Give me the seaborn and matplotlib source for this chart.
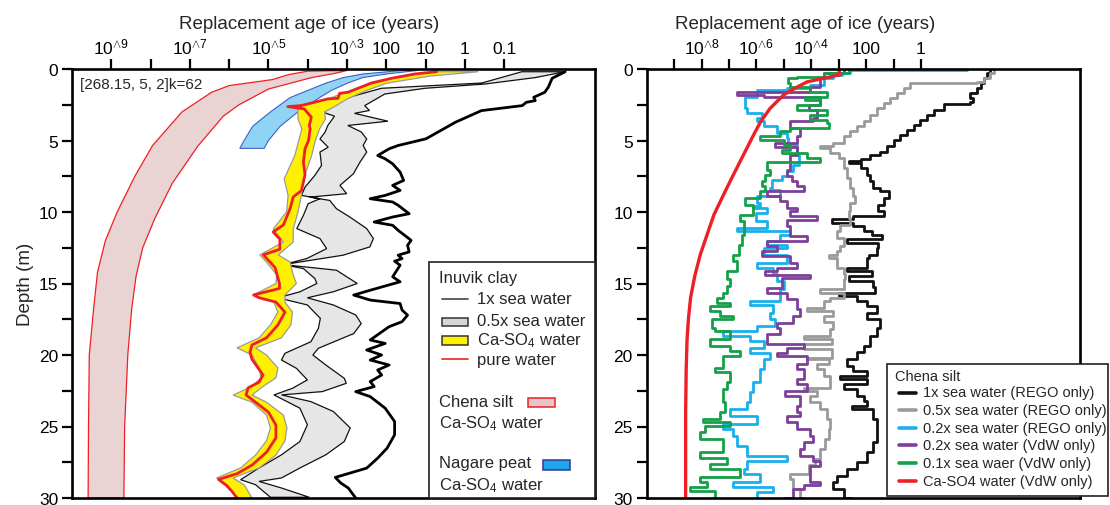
import numpy as np
import matplotlib
matplotlib.use("Agg")
import matplotlib.pyplot as plt
import seaborn as sns
from matplotlib.patches import Rectangle
from matplotlib.lines import Line2D
from matplotlib.ticker import FixedLocator, FixedFormatter, NullLocator

# ======================= DATA (depth in m, log10 of replacement age in years) ==========
# ---- left panel: Inuvik clay ----
clay_sea1_depth = [0.19,0.65,1.28,1.63,1.98,2.21,2.33,2.56,2.91,3.72,4.88,5.35,5.58,6.05,6.28,6.63,7.21,7.79,
                   8.14,8.49,8.84,9.07,9.30,9.53,10.12,10.35,10.70,10.93,11.28,11.98,12.33,12.79,13.02,13.26,
                   13.44,13.72,14.53,14.88,15.47,15.81,16.16,16.40,16.86,17.21,17.67,18.02,18.95,19.19,19.65,
                   20.00,20.35,20.70,21.05,21.40,21.86,22.21,22.56,22.91,23.72,24.65,25.58,26.51,27.21,27.91,
                   28.56,28.95,29.30,30.0]
clay_sea1_logage = [-2.55,-2.22,-2.12,-2.03,-1.75,-1.79,-1.56,-1.46,-0.42,0.24,0.99,1.70,1.93,2.22,2.03,1.84,1.65,
                    1.56,1.84,1.65,2.03,2.41,1.84,1.70,1.42,1.84,2.31,1.84,1.70,1.37,1.46,1.42,1.70,1.60,1.79,1.65,
                    1.84,1.65,2.41,2.83,2.41,1.65,1.60,1.46,1.60,1.93,2.41,2.03,2.50,2.12,2.41,1.93,2.22,2.12,2.41,
                    2.31,2.78,2.41,2.03,1.79,1.79,1.98,2.22,2.50,3.30,3.16,2.97,2.78]

clay_half_left_depth = [0.19,0.98,1.35,2.0,2.56,2.9,3.3,3.95,4.42,4.89,5.47,5.81,6.74,7.44,8.26,8.84,9.07,9.42,
                        10.23,11.16,11.86,12.56,13.26,13.68,13.96,14.65,15.0,15.58,16.0,16.5,17.44,18.14,19.07,
                        19.88,20.35,20.93,21.74,22.33,22.79,23.72,24.88,26.05,26.98,27.9,28.72,29.07,29.95]
clay_half_left_logage = [-1.45,-0.43,2.13,2.98,3.57,3.74,3.32,3.49,3.56,3.69,3.48,3.69,3.65,3.82,4.07,4.16,3.69,
                         3.99,4.11,4.28,3.69,3.52,4.03,4.62,4.11,3.82,3.77,4.20,4.76,4.01,3.68,3.73,3.92,4.58,
                         4.67,4.29,4.01,4.39,4.86,4.20,4.01,4.20,4.67,5.24,5.71,5.33,4.95]
clay_half_right_depth = [0.19,0.6,1.05,1.35,1.75,2.56,2.9,3.1,3.65,3.95,4.4,4.89,5.35,5.81,6.51,7.33,8.14,8.72,
                         8.96,9.19,9.77,10.35,11.16,11.86,12.44,13.02,13.68,14.07,15.0,15.58,16.0,16.5,17.2,17.8,
                         18.5,19.53,20.0,20.7,21.63,21.98,22.56,22.79,23.26,23.95,25.1,26.05,26.98,27.9,28.6,
                         28.84,29.3,29.95]
clay_half_right_logage = [-2.55,-1.79,-0.51,1.02,2.04,2.55,2.43,2.81,1.96,2.98,2.64,2.50,2.59,2.50,2.67,2.84,
                          3.18,3.01,3.95,3.44,3.27,2.93,2.50,2.33,2.42,3.10,4.62,3.27,2.74,3.35,4.01,3.35,2.78,
                          2.64,2.83,3.73,3.87,3.54,3.07,3.02,3.63,4.67,3.92,3.35,2.92,3.07,3.54,4.20,4.67,5.24,
                          4.67,3.96]

clay_caso4_depth = [0.19,0.5,1.0,1.6,2.1,2.6,3.0,3.5,4.19,5.12,6.05,7.68,8.84,10.0,11.2,12.1,13.0,13.5,14.4,15.0,
                    15.8,16.3,17.0,17.9,18.8,19.5,20.0,20.9,21.6,22.2,22.8,23.3,24.2,25.1,26.0,27.0,27.9,28.6,
                    29.1,30.0]
clay_caso4_left_logage = [0.72,1.6,2.4,3.0,3.5,4.25,4.25,4.25,4.15,4.24,4.33,4.6,4.50,4.54,4.88,4.62,5.22,5.05,
                          4.79,4.81,5.38,4.86,4.76,4.95,5.24,5.80,5.42,5.24,5.19,5.42,5.90,5.42,5.05,4.95,5.05,
                          5.33,5.71,6.32,6.04,5.80]
clay_caso4_right_logage = [-0.34,0.9,2.0,2.6,3.0,3.3,3.57,3.55,3.7,3.82,3.9,4.11,4.16,4.25,4.37,4.37,4.75,4.45,
                           4.37,4.29,4.58,4.58,4.39,4.43,4.67,5.33,5.05,4.76,4.81,5.14,5.42,5.05,4.62,4.53,4.58,
                           4.81,5.24,5.90,5.61,5.42]

clay_pure_depth = [0.19,0.35,0.65,0.98,1.63,1.70,2.05,2.09,2.56,2.63,2.79,3.37,3.95,4.19,5.0,5.58,6.5,7.4,8.5,
                   8.95,9.77,10.9,11.4,11.9,12.6,13.0,13.5,13.9,15.0,15.35,15.8,16.0,16.3,17.0,17.9,18.8,19.3,
                   19.8,20.3,21.0,21.4,21.9,22.3,22.8,23.3,24.0,24.9,25.8,26.8,27.7,28.3,28.7,29.1,29.5,30.0]
clay_pure_logage = [0.72,1.28,1.87,2.38,2.98,3.19,3.23,3.49,4.17,4.51,4.09,3.91,3.96,3.94,3.98,4.07,4.11,4.07,
                    4.16,4.37,4.45,4.62,4.88,4.71,4.71,5.13,4.96,4.83,4.72,4.72,5.38,5.24,4.81,4.58,4.76,5.05,
                    5.42,5.47,5.42,5.24,5.14,5.24,5.52,5.57,5.33,5.0,4.81,4.81,5.05,5.42,5.80,6.27,6.08,5.94,5.80]

# ---- left panel: Chena silt and Nagare peat, Ca-SO4 water ----
silt_outer_depth = [0.15,0.4,0.74,1.16,1.63,3.0,5.35,7.5,10.0,12.0,14.2,16.75,20.0,25.0,30.0]
silt_outer_logage = [4.0,4.5,4.9,6.0,6.45,7.2,7.95,8.4,8.85,9.15,9.35,9.45,9.56,9.58,9.59]
silt_inner_depth = [0.1,0.3,0.6,1.4,2.5,3.3,5.4,8.0,10.5,12.5,14.5,16.75,20.0,25.0,30.0]
silt_inner_logage = [3.0,3.3,3.9,5.0,5.75,6.15,6.8,7.45,7.9,8.2,8.37,8.48,8.58,8.66,8.68]

peat_depth = [0.1,0.35,0.6,1.0,1.5,2.0,3.0,4.0,5.0,5.55]
peat_old_logage = [1.6,2.6,3.1,3.55,4.0,4.45,4.95,5.4,5.62,5.73]
peat_young_logage = [1.2,2.0,2.6,3.0,3.4,3.7,4.25,4.7,5.0,5.11]

# ---- right panel: Chena silt ----
rego1_depth = [0.07,0.3,0.65,1.0,1.35,1.7,2.0,2.3,2.47,2.86,3.2,3.56,3.9,4.26,4.6,4.95,5.35,5.77,6.0,6.3,6.42,
               6.6,6.93,7.4,7.86,8.33,8.56,9.0,9.5,9.95,10.3,10.5,10.8,11.0,11.35,11.6,11.9,12.15,12.5,12.98,
               13.25,13.9,14.15,14.5,14.85,15.25,15.65,15.9,16.2,16.6,17.05,17.5,18.1,18.7,19.4,19.8,20.3,
               20.77,21.1,21.47,21.7,22.05,22.4,22.86,23.2,23.56,23.8,24.5,25.4,26.1,26.8,27.5,28.0,28.44,28.9,
               29.4,30.0]
rego1_logage = [-2.53,-2.4,-2.3,-2.2,-2.04,-1.8,-1.9,-1.8,-0.83,-0.46,-0.22,0.02,0.27,0.51,0.75,1.0,1.25,1.48,
                1.85,2.2,2.64,2.2,1.97,1.85,1.73,1.48,1.18,1.36,1.55,1.36,2.46,3.25,2.46,2.09,1.79,1.42,2.7,1.55,
                1.6,1.9,1.97,2.70,1.79,2.64,1.73,1.67,3.0,2.34,1.97,1.6,1.97,1.48,1.6,1.85,2.09,2.34,2.70,2.46,
                1.97,2.94,1.97,2.82,2.34,2.09,1.97,2.52,1.73,1.6,1.6,1.73,1.97,2.34,2.70,3.07,3.19,2.82,2.58]

rego05_depth = [0.07,0.3,0.65,0.9,1.0,1.35,1.7,2.05,2.4,2.74,3.2,3.67,4.0,4.37,4.72,5.2,5.35,5.53,5.9,6.23,
                6.93,7.63,8.33,8.9,9.4,9.95,10.4,10.9,11.35,11.8,12.4,12.74,13.0,13.2,13.44,13.9,14.37,14.7,
                15.4,15.65,16.0,16.2,16.7,16.93,17.3,17.7,18.2,18.67,18.9,19.26,19.6,20.2,20.3,20.65,21.0,
                21.47,22.3,22.5,22.86,23.3,23.8,24.5,25.2,25.9,26.6,27.3,27.7,28.3,28.7,29.4,30.0]
rego05_logage = [-2.65,-2.5,-2.3,-2.04,0.39,0.63,0.88,1.12,1.36,1.6,1.85,2.09,2.34,2.58,2.82,3.19,3.67,3.31,
                 3.0,2.82,2.70,2.58,2.46,2.4,2.58,2.64,2.58,2.94,3.07,2.82,2.94,3.07,3.37,3.07,3.07,2.82,2.76,
                 2.82,3.67,2.82,3.31,3.55,4.16,3.19,3.55,3.19,3.31,4.28,3.25,4.28,3.25,4.16,3.37,3.79,3.55,
                 3.31,4.28,3.79,4.04,3.67,3.43,3.31,3.37,3.49,3.67,3.86,4.10,4.77,4.65,4.4,4.28]

rego02_depth = [0.0,0.1,0.3,0.4,0.65,1.1,1.35,1.47,1.93,2.74,3.1,3.44,3.67,4.0,4.5,4.84,5.3,6.0,6.7,7.16,7.5,
                7.74,8.33,8.44,8.9,9.37,9.6,9.7,10.1,10.6,11.1,11.35,11.58,12.05,12.3,12.5,13.0,13.56,13.9,
                14.37,14.84,15.0,15.4,16.2,16.5,17.05,17.5,18.0,18.3,18.67,19.0,19.5,19.84,20.3,21.0,21.9,
                22.6,23.3,23.8,24.26,24.84,25.2,25.65,26.35,27.05,27.4,27.98,28.33,28.9,29.26,29.6,30.0]
rego02_logage = [-1.68,2.58,2.88,3.2,3.55,4.04,4.89,5.99,6.41,6.35,5.80,5.99,5.74,5.26,4.89,4.83,4.53,4.46,
                 4.65,4.89,5.07,5.44,5.50,5.13,5.99,5.86,6.11,5.62,6.0,5.6,6.72,4.77,5.13,5.62,4.89,5.74,4.89,
                 5.99,5.38,5.26,5.01,5.0,5.13,6.23,5.38,5.50,5.32,5.99,7.20,6.23,5.74,6.23,5.50,5.74,5.86,
                 6.11,6.23,6.35,6.96,5.99,7.20,6.84,6.72,6.35,4.89,6.35,6.47,5.86,6.84,5.38,5.99,5.99]

vdw02_depth = [0.07,0.3,0.65,1.23,1.58,1.8,1.93,2.5,2.86,3.44,3.67,4.14,4.72,5.2,5.42,6.0,7.05,7.5,7.86,8.2,
               8.56,8.9,9.26,9.72,9.95,10.3,10.53,11.0,11.7,12.05,12.4,12.74,13.1,13.56,13.9,14.1,14.4,14.6,
               15.3,15.65,16.1,16.8,17.3,17.74,18.1,18.56,19.26,19.5,19.84,20.07,20.65,21.0,21.7,22.05,22.5,
               22.86,23.56,24.0,24.26,24.72,25.2,25.65,26.1,26.6,27.05,27.4,27.74,28.9,29.1,29.4,30.0]
vdw02_logage = [2.82,3.55,3.67,4.04,6.72,5.74,3.67,4.10,3.79,3.92,4.77,4.40,4.53,5.32,4.53,4.77,4.89,4.71,
                4.53,4.28,5.62,5.13,4.89,4.53,4.77,3.79,4.89,4.77,4.16,5.62,5.26,5.80,4.77,4.53,5.26,5.68,
                4.04,5.07,5.62,4.89,4.53,4.40,4.65,5.26,5.13,5.62,4.28,4.9,5.26,4.16,4.53,4.28,4.53,4.16,4.95,
                4.40,4.53,4.40,4.89,4.53,4.04,3.92,4.28,4.40,3.92,3.67,4.04,3.67,4.28,4.65,5.01]

vdw01_depth = [0.0,0.3,0.53,0.65,1.0,1.23,1.58,1.93,2.16,2.5,2.86,3.2,3.56,3.8,4.14,4.37,4.72,4.95,5.3,5.65,
               5.88,6.23,6.47,7.05,7.4,7.86,8.2,8.56,9.0,9.5,10.2,10.65,11.6,12.3,13.0,13.44,14.1,14.7,15.2,
               15.65,16.0,16.35,16.6,16.93,17.3,17.5,18.1,18.3,18.9,19.4,19.7,20.07,20.9,21.2,21.9,22.4,23.3,
               24.0,24.5,24.7,24.95,25.4,25.9,26.8,27.2,27.6,27.98,28.56,28.9,29.26,29.5,30.0]
vdw01_logage = [2.64,3.55,4.53,4.83,4.77,4.04,3.43,4.22,3.67,4.53,3.43,4.04,3.43,3.37,4.77,5.13,5.86,5.01,
                4.77,5.07,4.16,3.67,5.62,5.50,5.68,5.80,5.68,5.86,6.41,6.11,6.59,6.47,6.53,6.65,6.84,6.72,
                7.08,6.96,7.08,7.20,7.44,6.96,7.69,7.32,6.84,7.63,7.51,6.96,7.69,6.96,6.59,7.20,7.51,6.96,
                7.08,7.20,7.14,7.32,7.93,6.96,7.87,8.05,7.20,8.05,7.08,7.69,6.59,8.05,7.81,8.42,7.51,7.44]

vdw_caso4_depth = [0.0,0.4,0.65,0.9,1.25,1.8,2.75,3.7,4.6,6.0,7.4,8.8,10.2,11.6,13.0,14.5,16.0,17.5,19.0,21.0,
                   24.0,27.0,30.0]
vdw_caso4_logage = [3.0,2.95,3.55,4.15,4.5,5.0,5.5,5.85,6.1,6.47,6.84,7.2,7.55,7.8,8.05,8.25,8.4,8.48,8.53,
                    8.56,8.58,8.58,8.58]

# ---- tick labels ----
left_tick_exp = [9, 8, 7, 6, 5, 4, 3, 2, 1, 0, -1]
left_tick_text = ["10^9", "", "10^7", "", "10^5", "", "10^3", "100", "10", "1", "0.1"]
right_tick_exp = [9, 8, 7, 6, 5, 4, 3, 2, 1, 0]
right_tick_text = ["", "10^8", "", "10^6", "", "10^4", "", "100", "", "1"]
depth_ticks = [0, 2.5, 5, 7.5, 10, 12.5, 15, 17.5, 20, 22.5, 25, 27.5, 30]
depth_tick_text = ["0", "", "5", "", "10", "", "15", "", "20", "", "25", "", "30"]

# ======================= STYLE ==========================================================
sns.set_theme(style="ticks")
plt.rcParams["font.family"] = ["Liberation Sans", "DejaVu Sans"]
plt.rcParams["mathtext.fontset"] = "custom"
plt.rcParams["mathtext.rm"] = "Liberation Sans"
plt.rcParams["mathtext.it"] = "Liberation Sans"
plt.rcParams["mathtext.bf"] = "Liberation Sans:bold"

RED = "#ee1f26"
W, H = 1110, 506
fig = plt.figure(figsize=(W / 100, H / 100), dpi=100)


def fx(px):
    return px / W


def fy(py):
    return 1 - py / H


axL = fig.add_axes([fx(72), fy(499), fx(595) - fx(72), fy(70) - fy(499)])
axR = fig.add_axes([fx(646.7), fy(499), fx(1080) - fx(646.7), fy(70) - fy(499)])


def age(a):
    return 10.0 ** np.asarray(a, dtype=float)


def band(ax, d1, v1, d2, v2, fc, ec, lw, z):
    xs = np.concatenate([age(v1), age(v2)[::-1]])
    ys = np.concatenate([np.asarray(d1, float), np.asarray(d2, float)[::-1]])
    ax.fill(xs, ys, facecolor=fc, edgecolor=ec, linewidth=lw, zorder=z)


def mtext(s):
    if s.startswith("10^"):
        return r"10$^{\wedge " + s[3:] + "}$"
    return s


for ax in (axL, axR):
    ax.set_xscale("log")

# ---------------- left panel ----------------
band(axL, silt_outer_depth, silt_outer_logage, silt_inner_depth, silt_inner_logage, "#ead3d3", RED, 0.9, 2)
band(axL, peat_depth, peat_old_logage, peat_depth, peat_young_logage, "#8fd4f4", "#3f5fc8", 0.8, 3)
band(axL, clay_half_left_depth, clay_half_left_logage, clay_half_right_depth, clay_half_right_logage,
     "#e6e6e6", "#111111", 0.9, 4)
sns.lineplot(x=age(clay_sea1_logage), y=clay_sea1_depth, sort=False, estimator=None, ax=axL,
             color="black", linewidth=2.0, zorder=5)
band(axL, clay_caso4_depth, clay_caso4_left_logage, clay_caso4_depth, clay_caso4_right_logage,
     "#fff000", "#9a9a9a", 0.9, 6)
sns.lineplot(x=age(clay_pure_logage), y=clay_pure_depth, sort=False, estimator=None, ax=axL,
             color=RED, linewidth=2.0, zorder=7)

# ---------------- right panel ----------------
right_series = [
    (rego1_depth, rego1_logage, "#111111", "1x sea water (REGO only)"),
    (rego05_depth, rego05_logage, "#9a9a9a", "0.5x sea water (REGO only)"),
    (rego02_depth, rego02_logage, "#18b0ec", "0.2x sea water (REGO only)"),
    (vdw02_depth, vdw02_logage, "#7d3f98", "0.2x sea water (VdW only)"),
    (vdw01_depth, vdw01_logage, "#14a048", "0.1x sea waer (VdW only)"),
]
for d, v, c, lab in right_series:
    sns.lineplot(x=age(v), y=d, sort=False, estimator=None, ax=axR, color=c, linewidth=2.0,
                 drawstyle="steps-pre", zorder=4)
sns.lineplot(x=age(vdw_caso4_logage), y=vdw_caso4_depth, sort=False, estimator=None, ax=axR,
             color=RED, linewidth=2.4, zorder=5)

# ---------------- axes formatting ----------------
for ax, lo, hi, exps, texts, title_x in ((axL, 10.0, -3.31, left_tick_exp, left_tick_text, 0.453),
                                         (axR, 10.0, -5.8, right_tick_exp, right_tick_text, 0.366)):
    ax.set_xlim(10.0 ** lo, 10.0 ** hi)
    ax.set_ylim(30, 0)
    ax.xaxis.set_major_locator(FixedLocator([10.0 ** e for e in exps]))
    ax.xaxis.set_major_formatter(FixedFormatter([mtext(t) for t in texts]))
    ax.xaxis.set_minor_locator(NullLocator())
    ax.yaxis.set_major_locator(FixedLocator(depth_ticks))
    ax.yaxis.set_major_formatter(FixedFormatter(depth_tick_text))
    ax.xaxis.tick_top()
    ax.xaxis.set_label_position("top")
    ax.tick_params(axis="x", which="major", direction="out", length=7, width=1.6, labelsize=12.5,
                   pad=2, colors="black")
    ax.tick_params(axis="y", which="major", direction="out", length=7, width=1.6, labelsize=12.5,
                   pad=3, colors="black")
    for s in ax.spines.values():
        s.set_linewidth(1.9)
        s.set_color("black")
        s.set_zorder(10)
    ax.set_xlabel("Replacement age of ice (years)", fontsize=13.5, labelpad=6)
    ax.xaxis.label.set_x(title_x)
    ax.set_ylabel("")
    ax.grid(False)
    ax.set_facecolor("white")

axL.set_ylabel("Depth (m)", fontsize=13.5, labelpad=3)

# annotation in the left panel
fig.text(fx(80), fy(85), "[268.15, 5, 2]k=62", fontsize=11, va="center", ha="left")

# ---------------- left legend (manual box) ----------------
LW = dict(transform=fig.transFigure)
fig.add_artist(Rectangle((fx(429), fy(499)), fx(595) - fx(429), fy(263) - fy(499), facecolor="white",
                         edgecolor="#222222", linewidth=1.2, zorder=20, **LW))


def ltext(x, y, s, size=12):
    fig.text(fx(x), fy(y), s, fontsize=size, va="center", ha="left", zorder=21)


def lline(x0, x1, y, c, lw):
    fig.add_artist(Line2D([fx(x0), fx(x1)], [fy(y), fy(y)], color=c, linewidth=lw, zorder=21, **LW))


def lrect(x0, x1, y0, y1, fc, ec):
    fig.add_artist(Rectangle((fx(x0), fy(y1)), fx(x1) - fx(x0), fy(y0) - fy(y1), facecolor=fc,
                             edgecolor=ec, linewidth=1.1, zorder=21, **LW))


CASO4 = r"Ca-SO$_4$ water"
ltext(439, 279, "Inuvik clay")
lline(442, 468, 300, "#444444", 1.2)
ltext(477, 300, "1x sea water")
lrect(442, 468, 318.5, 326.5, "#d6d6d6", "#333333")
ltext(477, 322, "0.5x sea water")
lrect(442, 468, 337, 346, "#fff000", "#333333")
ltext(477, 341, CASO4)
lline(442, 468, 360, RED, 1.2)
ltext(477, 360, "pure water")
ltext(439, 403, "Chena silt")
lrect(528, 555, 398.5, 407.5, "#e8c6c8", RED)
ltext(439, 424, CASO4)
ltext(439, 464, "Nagare peat")
lrect(543, 570, 461, 470.5, "#1fa6ea", "#2b3a9b")
ltext(439, 486, CASO4)

# ---------------- right legend (manual box) ----------------
fig.add_artist(Rectangle((fx(887), fy(497)), fx(1108) - fx(887), fy(365) - fy(497), facecolor="white",
                         edgecolor="#222222", linewidth=1.2, zorder=20, **LW))
ltext(895, 377, "Chena silt", size=10.5)
legend_right = [(c, lab) for _, _, c, lab in right_series] + [(RED, "Ca-SO4 water (VdW only)")]
for i, (c, lab) in enumerate(legend_right):
    y = 393.5 + i * 17.65
    lline(899, 916, y, c, 2.6)
    ltext(923, y, lab, size=10.5)

fig.savefig("out.png", dpi=100)
